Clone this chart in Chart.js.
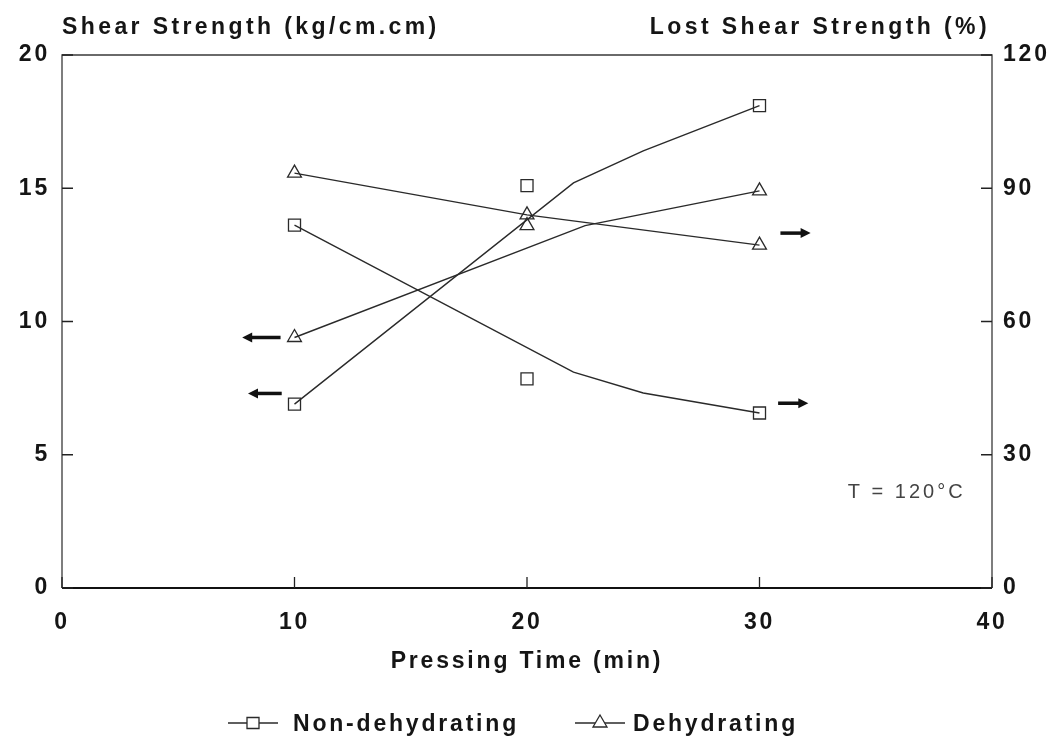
<!DOCTYPE html>
<html>
<head>
<meta charset="utf-8">
<script src="https://cdn.jsdelivr.net/npm/chart.js@4.4.0/dist/chart.umd.min.js"></script>
<style>
  html, body { margin: 0; padding: 0; background: #fff; }
  canvas { display: block; }
</style>
</head>
<body>
<canvas id="chart" width="1062" height="741"></canvas>
<script>
// measured points
const timeMin = [10, 20, 30]
const nonDehydStrength = [6.9, 15.1, 18.1]
const nonDehydLost = [81.7, 47.1, 39.4]
const dehydStrength = [9.4, 13.6, 14.9]
const dehydLost = [93.4, 84.0, 77.2]

// curves as drawn in the figure (they don't go through every point)
const nonDehydStrengthFitX = [10, 22, 25, 30]
const nonDehydStrengthFitY = [6.9, 15.2, 16.4, 18.1]
const nonDehydLostFitX = [10, 22, 25, 30]
const nonDehydLostFitY = [81.7, 48.6, 43.9, 39.4]
const dehydStrengthFitX = [10, 22.5, 30]
const dehydStrengthFitY = [9.4, 13.6, 14.9]

// tick labels
const xTicks = [0, 10, 20, 30, 40]
const leftTicks = [0, 5, 10, 15, 20]
const rightTicks = [0, 30, 60, 90, 120]

// arrows telling which axis a curve belongs to (axis, value, x from -> x to)
const arrows = [
    { axis: 'y', value: 9.4, from: 9.4, to: 7.75 },
    { axis: 'y', value: 7.3, from: 9.45, to: 8.0 },
    { axis: 'y1', value: 79.9, from: 30.9, to: 32.2 },
    { axis: 'y1', value: 41.6, from: 30.8, to: 32.1 },
]

const FONT = '"Liberation Sans", Arial, sans-serif'
const SPACING = '2.8px'
const INK = '#151515'
const LINE = '#2a2a2a'

const pts = (xs, ys) => xs.map((x, i) => ({ x, y: ys[i] }))

function pointSet(data, style, axis) {
    return {
        data, yAxisID: axis, showLine: false,
        pointStyle: style,
        pointRadius: style === 'rect' ? 8.5 : 8,
        pointHoverRadius: style === 'rect' ? 8.5 : 8,
        pointBorderColor: LINE, pointBorderWidth: 1.3,
        pointBackgroundColor: 'rgba(0,0,0,0)',
    }
}

function lineSet(data, axis) {
    return {
        data, yAxisID: axis, showLine: true, tension: 0,
        borderColor: LINE, borderWidth: 1.4, pointRadius: 0,
    }
}

const decor = {
    id: 'decor',
    beforeDraw(chart) {
        chart.ctx.letterSpacing = SPACING
    },
    afterDraw(chart) {
        const { ctx, chartArea: a, scales } = chart
        ctx.save()

        // frame
        ctx.strokeStyle = '#3a3a3a'
        ctx.lineWidth = 1.3
        ctx.beginPath()
        ctx.moveTo(a.left, a.bottom); ctx.lineTo(a.left, a.top)
        ctx.lineTo(a.right, a.top); ctx.lineTo(a.right, a.bottom)
        ctx.stroke()
        ctx.strokeStyle = '#111'
        ctx.lineWidth = 2
        ctx.beginPath()
        ctx.moveTo(a.left, a.bottom); ctx.lineTo(a.right, a.bottom)
        ctx.stroke()

        // inward tick marks
        ctx.lineWidth = 1.3
        ctx.strokeStyle = '#222'
        ctx.beginPath()
        scales.x.ticks.forEach(t => {
            const px = scales.x.getPixelForValue(t.value)
            ctx.moveTo(px, a.bottom); ctx.lineTo(px, a.bottom - 11)
        })
        scales.y.ticks.forEach(t => {
            const py = scales.y.getPixelForValue(t.value)
            ctx.moveTo(a.left, py); ctx.lineTo(a.left + 11, py)
        })
        scales.y1.ticks.forEach(t => {
            const py = scales.y1.getPixelForValue(t.value)
            ctx.moveTo(a.right, py); ctx.lineTo(a.right - 11, py)
        })
        ctx.stroke()

        // arrows
        ctx.fillStyle = '#111'
        ctx.strokeStyle = '#111'
        arrows.forEach(ar => {
            const y = scales[ar.axis].getPixelForValue(ar.value)
            const x0 = scales.x.getPixelForValue(ar.from)
            const x1 = scales.x.getPixelForValue(ar.to)
            const dir = Math.sign(x1 - x0)
            ctx.lineWidth = 3.5
            ctx.beginPath()
            ctx.moveTo(x0, y); ctx.lineTo(x1 - dir * 8, y)
            ctx.stroke()
            ctx.beginPath()
            ctx.moveTo(x1, y)
            ctx.lineTo(x1 - dir * 10, y - 5)
            ctx.lineTo(x1 - dir * 10, y + 5)
            ctx.closePath()
            ctx.fill()
        })

        // axis titles on top
        ctx.letterSpacing = '3.4px'
        ctx.fillStyle = INK
        ctx.font = 'bold 23px ' + FONT
        ctx.textBaseline = 'middle'
        ctx.textAlign = 'left'
        ctx.fillText('Shear Strength (kg/cm.cm)', 62, 28)
        ctx.textAlign = 'right'
        ctx.fillText('Lost Shear Strength (%)', 990, 28)

        // temperature note
        ctx.letterSpacing = '3px'
        ctx.fillStyle = '#444'
        ctx.font = '20px ' + FONT
        ctx.textAlign = 'left'
        const tx = scales.x.getPixelForValue(33.8)
        const ty = scales.y.getPixelForValue(3.6)
        ctx.fillText('T = 120°C', tx, ty)

        // legend
        ctx.letterSpacing = SPACING
        const ly = 723
        const items = [
            { label: 'Non-dehydrating', style: 'rect', x: 228, tx: 293 },
            { label: 'Dehydrating', style: 'triangle', x: 575, tx: 633 },
        ]
        items.forEach(it => {
            ctx.strokeStyle = LINE
            ctx.lineWidth = 1.3
            ctx.beginPath()
            ctx.moveTo(it.x, ly); ctx.lineTo(it.x + 50, ly)
            ctx.stroke()
            const cx = it.x + 25
            ctx.fillStyle = '#fff'
            ctx.beginPath()
            if (it.style === 'rect') {
                ctx.rect(cx - 6, ly - 5.5, 12, 11)
            } else {
                ctx.moveTo(cx, ly - 8)
                ctx.lineTo(cx + 7, ly + 4)
                ctx.lineTo(cx - 7, ly + 4)
                ctx.closePath()
            }
            ctx.fill()
            ctx.stroke()
            ctx.fillStyle = INK
            ctx.font = 'bold 23px ' + FONT
            ctx.textAlign = 'left'
            ctx.fillText(it.label, it.tx, ly + 2)
        })

        ctx.restore()
    }
}

const tickFont = { family: FONT, size: 23, weight: 'bold' }

new Chart(document.getElementById('chart'), {
    type: 'scatter',
    data: {
        datasets: [
            lineSet(pts(nonDehydStrengthFitX, nonDehydStrengthFitY), 'y'),
            lineSet(pts(nonDehydLostFitX, nonDehydLostFitY), 'y1'),
            lineSet(pts(dehydStrengthFitX, dehydStrengthFitY), 'y'),
            lineSet(pts(timeMin, dehydLost), 'y1'),
            pointSet(pts(timeMin, nonDehydStrength), 'rect', 'y'),
            pointSet(pts(timeMin, nonDehydLost), 'rect', 'y1'),
            pointSet(pts(timeMin, dehydStrength), 'triangle', 'y'),
            pointSet(pts(timeMin, dehydLost), 'triangle', 'y1'),
        ]
    },
    options: {
        responsive: false,
        devicePixelRatio: 1,
        animation: false,
        layout: { padding: { top: 55, left: 0, right: 0, bottom: 0 } },
        plugins: { legend: { display: false }, tooltip: { enabled: false } },
        scales: {
            x: {
                type: 'linear', min: 0, max: 40,
                afterBuildTicks: s => { s.ticks = xTicks.map(v => ({ value: v })) },
                afterFit: s => { s.height = 153 },
                grid: { display: false, drawTicks: false },
                border: { display: false },
                ticks: { font: tickFont, color: INK, padding: 21, maxRotation: 0 },
                title: {
                    display: true, text: 'Pressing Time (min)', color: INK,
                    font: { family: FONT, size: 23, weight: 'bold' },
                    padding: { top: 0, bottom: 66 }
                }
            },
            y: {
                type: 'linear', position: 'left', min: 0, max: 20,
                afterBuildTicks: s => { s.ticks = leftTicks.map(v => ({ value: v })) },
                afterFit: s => { s.width = 62 },
                grid: { display: false, drawTicks: false },
                border: { display: false },
                ticks: { font: tickFont, color: INK, padding: 12 }
            },
            y1: {
                type: 'linear', position: 'right', min: 0, max: 120,
                afterBuildTicks: s => { s.ticks = rightTicks.map(v => ({ value: v })) },
                afterFit: s => { s.width = 70 },
                grid: { display: false, drawTicks: false },
                border: { display: false },
                ticks: { font: tickFont, color: INK, padding: 11 }
            }
        }
    },
    plugins: [decor]
})
</script>
</body>
</html>
